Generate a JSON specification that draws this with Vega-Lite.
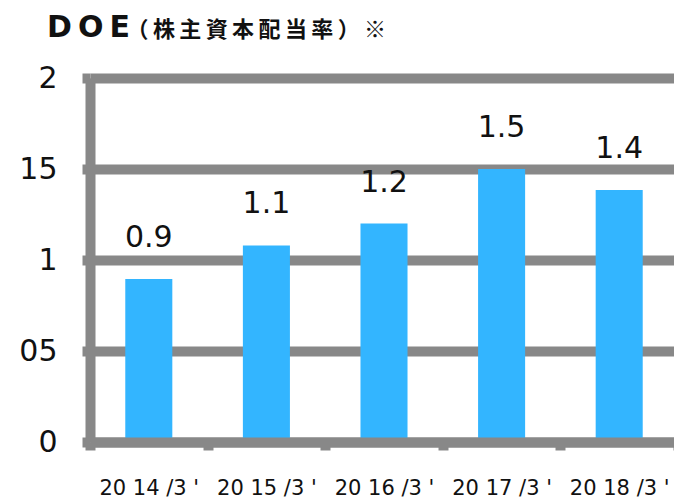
{
  "$schema": "https://vega.github.io/schema/vega-lite/v6.json",
  "width": 584,
  "height": 364,
  "autosize": "none",
  "padding": {"left": 90, "top": 78, "right": 0, "bottom": 56},
  "background": "white",
  "title": {
    "text": "D\u2009O\u2009E",
    "anchor": "start",
    "frame": "group",
    "font": "DejaVu Sans",
    "fontSize": 30,
    "fontWeight": "bold",
    "color": "#111111",
    "dx": -43,
    "dy": 29
  },
  "data": {
    "values": [
      {"period": "20 14 /3 '", "doe": 0.895, "label": "0.9"},
      {"period": "20 15 /3 '", "doe": 1.08, "label": "1.1"},
      {"period": "20 16 /3 '", "doe": 1.2, "label": "1.2"},
      {"period": "20 17 /3 '", "doe": 1.5, "label": "1.5"},
      {"period": "20 18 /3 '", "doe": 1.385, "label": "1.4"}
    ]
  },
  "encoding": {
    "x": {
      "field": "period",
      "type": "nominal",
      "sort": null,
      "scale": {"range": [0, 588], "paddingInner": 0, "paddingOuter": 0},
      "axis": {
        "title": null,
        "labelAngle": 0,
        "labelFont": "DejaVu Sans",
        "labelFontSize": 21,
        "labelColor": "#111111",
        "labelPadding": 27,
        "tickBand": "extent",
        "tickSize": 8,
        "tickWidth": 10,
        "tickColor": "#888888",
        "domainColor": "#888888",
        "domainWidth": 10,
        "grid": false,
        "zindex": 1
      }
    }
  },
  "layer": [
    {
      "mark": {"type": "bar", "color": "#33B5FF", "width": {"band": 0.4}},
      "encoding": {
        "y": {
          "field": "doe",
          "type": "quantitative",
          "scale": {"domain": [0, 2], "nice": false},
          "axis": {
            "values": [0, 0.5, 1, 1.5, 2],
            "labelExpr": "replace(format(datum.value, '~g'), '.', '')",
            "labelFont": "DejaVu Sans",
            "labelFontSize": 30,
            "labelColor": "#111111",
            "labelPadding": 25,
            "tickSize": 8,
            "tickWidth": 10,
            "tickColor": "#888888",
            "domainColor": "#888888",
            "domainWidth": 10,
            "grid": true,
            "gridColor": "#888888",
            "gridWidth": 10,
            "gridOpacity": 1,
            "title": "（\u2009株\u2009主\u2009資\u2009本\u2009配\u2009当\u2009率\u2009）\u2009※",
            "titleAngle": 0,
            "titleAlign": "left",
            "titleBaseline": "alphabetic",
            "titleX": 36,
            "titleY": -42,
            "titleFont": "Noto Sans CJK JP",
            "titleFontSize": 22,
            "titleFontWeight": "bold",
            "titleColor": "#111111"
          }
        }
      }
    },
    {
      "mark": {
        "type": "text",
        "font": "DejaVu Sans",
        "fontSize": 30,
        "color": "#111111",
        "baseline": "alphabetic",
        "dy": -32
      },
      "encoding": {
        "y": {"field": "doe", "type": "quantitative"},
        "text": {"field": "label"}
      }
    }
  ]
}
